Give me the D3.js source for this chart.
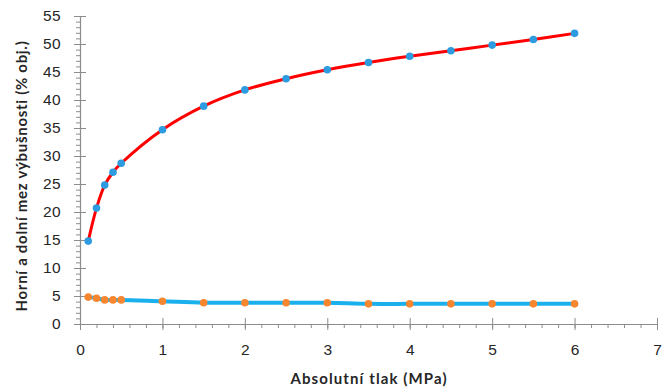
<!DOCTYPE html>
<html>
<head>
<meta charset="utf-8">
<script src="https://cdn.jsdelivr.net/npm/d3@7/dist/d3.min.js"></script>
<style>
  html, body { margin: 0; padding: 0; background: #fff; }
  svg { display: block; font-family: Lato, "Open Sans", sans-serif; }
</style>
</head>
<body>
<svg id="chart" width="670" height="387"></svg>
<script>
// Absolute pressure (MPa) at which the limits were measured
const pressure = [0.1, 0.2, 0.3, 0.4, 0.5, 1, 1.5, 2, 2.5, 3, 3.5, 4, 4.5, 5, 5.5, 6];
// Upper explosive limit (% vol.)
const upperLimit = [14.8, 20.7, 24.8, 27.1, 28.7, 34.7, 38.9, 41.8, 43.8, 45.4, 46.7, 47.8, 48.8, 49.8, 50.8, 51.9];
// Lower explosive limit (% vol.)
const lowerLimit = [4.8, 4.6, 4.3, 4.3, 4.3, 4.05, 3.8, 3.8, 3.8, 3.8, 3.6, 3.6, 3.6, 3.6, 3.6, 3.6];
// Axis ticks
const xTicks = [0, 1, 2, 3, 4, 5, 6, 7];
const yTicks = [0, 5, 10, 15, 20, 25, 30, 35, 40, 45, 50, 55];
const xMinorTicks = d3.range(0, 7.0001, 0.2);
const yMinorTicks = d3.range(0, 55.0001, 1);

const svg = d3.select("#chart");
const margin = { left: 80, top: 16, right: 13, bottom: 63 };
const W = 670, H = 387;

const x = d3.scaleLinear().domain([0, 7]).range([margin.left, W - margin.right]);
const y = d3.scaleLinear().domain([0, 55]).range([H - margin.bottom, margin.top]);

const axisColor = "#8c8c8c";
const textColor = "#262626";

// Minor ticks
const xMinorAxis = d3.axisBottom(x).tickValues(xMinorTicks).tickSize(4).tickFormat("");
const yMinorAxis = d3.axisLeft(y).tickValues(yMinorTicks).tickSize(4).tickFormat("");
svg.append("g").attr("transform", `translate(0,${y(0)})`).call(xMinorAxis)
  .call(g => g.select(".domain").remove())
  .call(g => g.selectAll("line").attr("stroke", axisColor));
svg.append("g").attr("transform", `translate(${x(0)},0)`).call(yMinorAxis)
  .call(g => g.select(".domain").remove())
  .call(g => g.selectAll("line").attr("stroke", axisColor));

// Major ticks cross the axis line
const xAxis = d3.axisBottom(x).tickValues(xTicks).tickSizeInner(6).tickSizeOuter(0).tickPadding(14)
  .tickFormat(d3.format("d"));
const yAxis = d3.axisLeft(y).tickValues(yTicks).tickSizeInner(6).tickSizeOuter(0).tickPadding(13)
  .tickFormat(d3.format("d"));

const gx = svg.append("g").attr("transform", `translate(0,${y(0)})`).call(xAxis);
gx.select(".domain").attr("stroke", axisColor).attr("stroke-width", 1.2);
gx.selectAll(".tick line").attr("stroke", axisColor).attr("y1", -6);
gx.selectAll(".tick text").attr("fill", textColor).attr("font-size", 15.5);

const gy = svg.append("g").attr("transform", `translate(${x(0)},0)`).call(yAxis);
gy.select(".domain").attr("stroke", axisColor).attr("stroke-width", 1.2);
gy.selectAll(".tick line").attr("stroke", axisColor).attr("x1", 6);
gy.selectAll(".tick text").attr("fill", textColor).attr("font-size", 15.5)
  .attr("letter-spacing", 0.4);

// Axis titles
svg.append("text")
  .attr("x", 369).attr("y", 384)
  .attr("text-anchor", "middle")
  .attr("font-size", 15).attr("font-weight", "bold").attr("fill", textColor)
  .attr("letter-spacing", 1.1)
  .text("Absolutní tlak (MPa)");
svg.append("text")
  .attr("transform", `translate(27,${176}) rotate(-90)`)
  .attr("text-anchor", "middle")
  .attr("font-size", 15).attr("font-weight", "bold").attr("fill", textColor)
  .attr("letter-spacing", 0.7)
  .text("Horní a dolní mez výbušnosti  (% obj.)");

const upper = pressure.map((p, i) => ({ p, v: upperLimit[i] }));
const lower = pressure.map((p, i) => ({ p, v: lowerLimit[i] }));

const line = d3.line().x(d => x(d.p)).y(d => y(d.v)).curve(d3.curveCatmullRom.alpha(0.5));

// Lower limit: smoothed cyan line, orange markers
svg.append("path").datum(lower).attr("d", line)
  .attr("fill", "none").attr("stroke", "#1ab0ee").attr("stroke-width", 4);
svg.append("g").selectAll("circle").data(lower).join("circle")
  .attr("cx", d => x(d.p)).attr("cy", d => y(d.v)).attr("r", 3.8)
  .attr("fill", "#f7862f");

// Upper limit: smoothed red line, blue markers
svg.append("path").datum(upper).attr("d", line)
  .attr("fill", "none").attr("stroke", "#ff0000").attr("stroke-width", 3);
svg.append("g").selectAll("circle").data(upper).join("circle")
  .attr("cx", d => x(d.p)).attr("cy", d => y(d.v)).attr("r", 3.8)
  .attr("fill", "#2d9be0");
</script>
</body>
</html>
